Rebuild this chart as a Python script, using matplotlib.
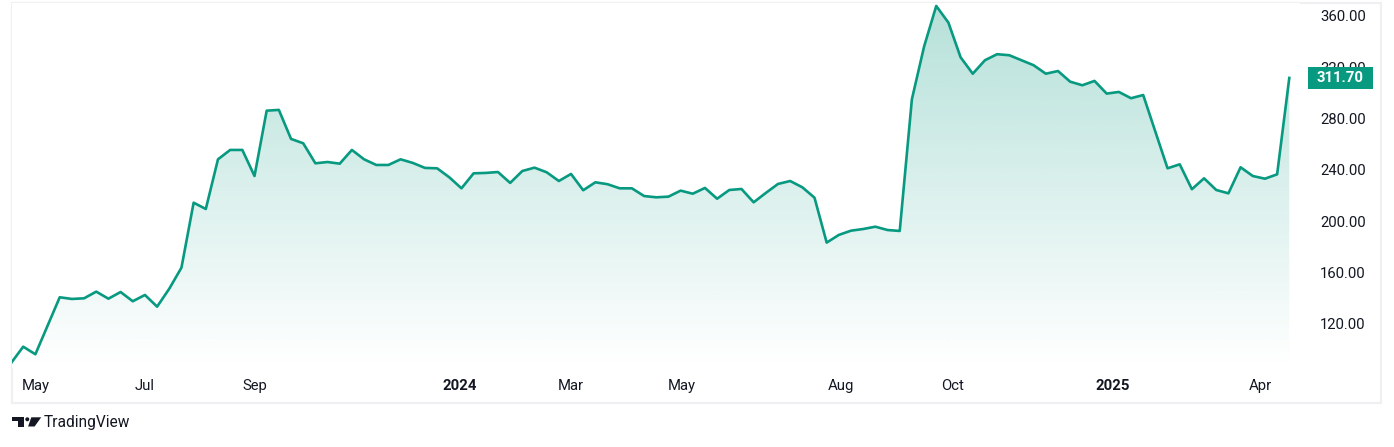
import matplotlib
matplotlib.use('Agg')
import matplotlib.pyplot as plt
import numpy as np
from matplotlib.patches import Rectangle, Polygon, Circle
from matplotlib.transforms import blended_transform_factory

# weekly closes, Apr 2023 -> Apr 2025
price = [89.5, 102.3, 96.4, 118.6, 140.8, 139.5, 140.0, 145.2, 139.7, 144.9,
         137.7, 142.6, 133.5, 147.5, 163.9, 214.5, 209.6, 248.3, 255.6, 255.6,
         235.3, 286.2, 286.8, 264.2, 260.8, 245.2, 246.2, 244.9, 255.6, 248.3,
         243.9, 243.9, 248.3, 245.5, 241.6, 241.3, 234.3, 225.7, 237.4, 237.7,
         238.4, 229.9, 239.2, 241.8, 238.2, 231.4, 236.9, 224.2, 230.4, 228.9,
         225.7, 225.7, 219.7, 218.7, 219.2, 223.9, 221.5, 226.0, 217.6, 224.4,
         225.2, 214.8, 222.1, 229.1, 231.4, 226.5, 218.4, 183.4, 189.4, 192.7,
         194.0, 195.8, 193.2, 192.5, 295.1, 336.1, 367.8, 354.8, 327.8, 315.0,
         325.5, 330.2, 329.4, 325.5, 321.6, 315.0, 317.1, 308.8, 306.0, 309.4,
         299.5, 300.8, 295.9, 298.4, 269.8, 241.3, 244.4, 225.0, 233.5, 224.4,
         221.8, 242.1, 235.3, 233.2, 236.6, 311.7]
last_price = 311.70

month_labels = ['May', 'Jul', 'Sep', '2024', 'Mar', 'May', 'Aug', 'Oct', '2025', 'Apr']
month_pos = [2.05, 11.0, 20.05, 36.9, 46.0, 55.1, 68.2, 77.3, 90.5, 102.6]
yticks = [120, 160, 200, 240, 280, 320, 360]

green = '#089981'
txt = '#131722'
plt.rcParams['font.family'] = ['Roboto', 'DejaVu Sans']

W, H = 1394, 447
fig = plt.figure(figsize=(W / 100, H / 100), dpi=100)
fig.patch.set_facecolor('white')

# pane in pixel terms: x 12..1300, y 3..368
ax = fig.add_axes([12 / W, (H - 368) / H, 1288 / W, 365 / H])
x = np.arange(len(price))
ax.set_xlim(0.08, 105.88)
ax.set_ylim(85.7, 370.1)

ax.plot(x, price, color=green, lw=1.9, solid_joinstyle='round', zorder=3)

# gradient fill under the line
poly = ax.fill_between(x, price, 85.7, color='none', lw=0)
grad = np.zeros((256, 1, 4))
grad[:, 0, 0] = 8 / 255
grad[:, 0, 1] = 153 / 255
grad[:, 0, 2] = 129 / 255
grad[:, 0, 3] = np.linspace(0.30, 0.0, 256)
im = ax.imshow(grad, aspect='auto', extent=[0, 105, 85.7, 370.1], origin='upper', zorder=2)
path = poly.get_paths()[0]
im.set_clip_path(path, transform=ax.transData)

for s in ax.spines.values():
    s.set_visible(False)
ax.yaxis.tick_right()
ax.set_yticks(yticks)
ax.set_yticklabels(['%.2f' % v for v in yticks])
ax.tick_params(axis='y', length=0, pad=14.4, labelsize=10.7, labelcolor=txt)
ax.set_xticks(month_pos)
ax.set_xticklabels(month_labels)
ax.tick_params(axis='x', length=0, pad=8, labelsize=10.7, labelcolor=txt)
for lab in ax.get_xticklabels():
    if lab.get_text() in ('2024', '2025'):
        lab.set_fontweight('bold')

# last price tag (covers part of the 320.00 label, as in the original)
tr = blended_transform_factory(ax.transAxes, ax.transData)
ax.add_patch(Rectangle((1296 / 1288, last_price - 8.3), 65 / 1288, 16.6, transform=tr,
                       facecolor=green, edgecolor='none', clip_on=False, zorder=5))
ax.text(1328.5 / 1288, last_price, '%.2f' % last_price, transform=tr, color='white',
        fontsize=10.7, fontweight='bold', ha='center', va='center', zorder=6, clip_on=False)

# frame around chart
ov = fig.add_axes([0, 0, 1, 1], zorder=-1)
ov.set_xlim(0, W)
ov.set_ylim(H, 0)
ov.axis('off')
ov.add_patch(Rectangle((12, 3), 1369, 400, fill=False, edgecolor='#eff0f2', lw=1.6))

# logo
ov2 = fig.add_axes([0, 0, 1, 1])
ov2.set_xlim(0, W)
ov2.set_ylim(H, 0)
ov2.axis('off')
ov2.patch.set_alpha(0)
ov2.add_patch(Rectangle((12.3, 417.3), 11.2, 3.8, color=txt, lw=0))
ov2.add_patch(Rectangle((18.4, 417.3), 5.1, 9.2, color=txt, lw=0))
ov2.add_patch(Circle((27.3, 419.3), 2.0, color=txt, lw=0))
ov2.add_patch(Polygon([(31.3, 417.3), (41.2, 417.3), (34.6, 426.5), (28.1, 426.5)], color=txt, lw=0))
ov2.text(43.5, 422.8, 'TradingView', color=txt, fontsize=11.2, ha='left', va='center')

fig.savefig('out.png', dpi=100)
